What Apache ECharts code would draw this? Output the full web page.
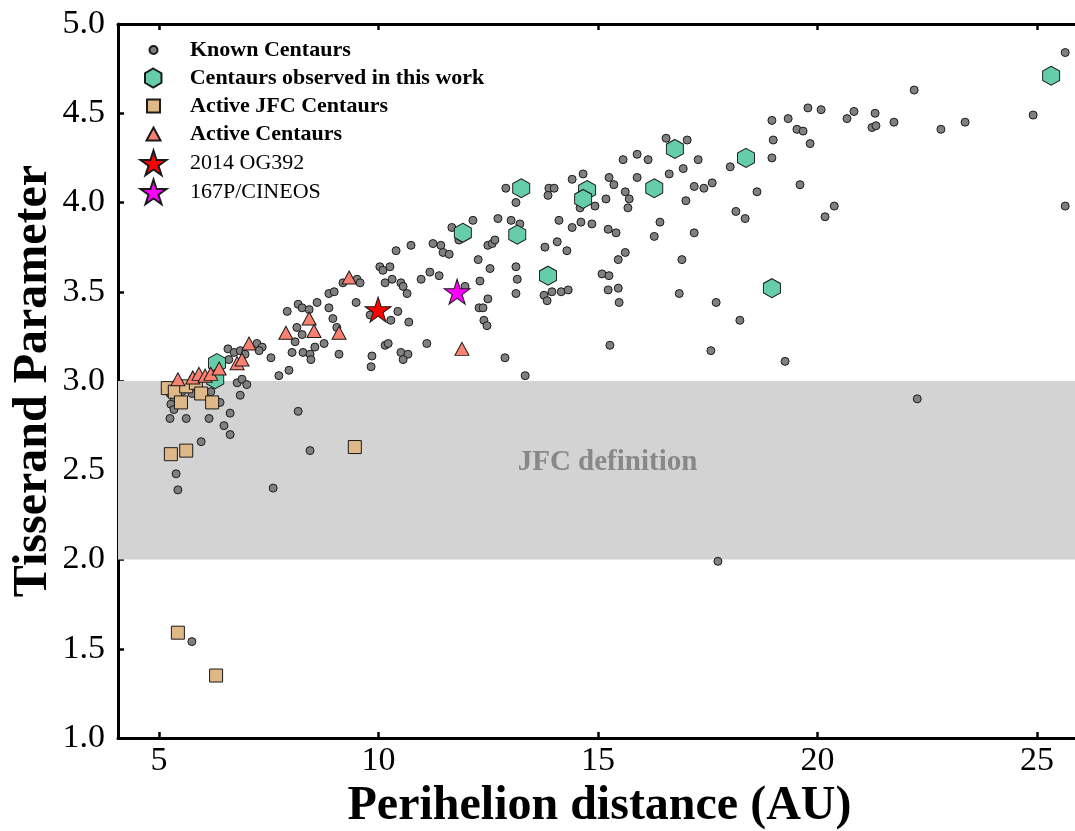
<!DOCTYPE html>
<html><head><meta charset="utf-8">
<script src="https://cdn.jsdelivr.net/npm/echarts@6/dist/echarts.min.js"></script>
<style>html,body{margin:0;padding:0;background:#fff}#c{width:1075px;height:831px}</style>
</head><body><div id="c"></div><script>
// ---- data (perihelion distance [AU], Tisserand parameter) ----
const xTicks = [5, 10, 15, 20, 25];
const yTickInterval = 0.5;
const knownCentaurs = [
[5.25,2.93],[5.34,2.90],[5.52,2.94],[5.75,2.93],[6.00,2.92],[6.18,2.94],[5.27,2.87],[5.34,2.84],[5.25,2.79],[5.62,2.79],[6.14,2.79],[6.39,2.88],[6.62,2.82],[6.48,2.75],[6.62,2.70],[5.96,2.66],[5.39,2.48],[5.43,2.39],[5.75,1.54],[6.78,2.99],[6.89,3.01],[7.00,2.98],[6.85,2.92],[6.57,3.18],[6.71,3.16],[6.85,3.17],[6.96,3.15],[6.59,3.12],[7.23,3.21],[7.35,3.19],[7.28,3.17],[7.55,3.13],[7.73,3.03],[7.96,3.06],[7.60,2.40],
[7.92,3.39],[8.17,3.43],[8.26,3.41],[8.42,3.40],[8.60,3.44],[8.87,3.49],[8.99,3.50],[8.87,3.41],[9.19,3.55],[9.51,3.57],[9.58,3.55],[9.49,3.44],[9.81,3.37],[8.96,3.35],[8.14,3.30],[9.05,3.30],[8.26,3.26],[8.10,3.22],[8.76,3.21],[8.55,3.19],[8.28,3.16],[8.03,3.16],[8.44,3.15],[8.46,3.12],[9.10,3.15],[9.85,3.14],[9.83,3.08],[8.17,2.83],[8.44,2.61],[10.03,3.64],[10.10,3.62],
[10.15,3.55],[10.31,3.57],[10.26,3.64],[10.51,3.55],[10.56,3.53],[10.65,3.49],[10.44,3.39],[10.28,3.34],[10.69,3.33],[10.15,3.20],[10.22,3.21],[10.51,3.16],[10.67,3.15],[10.56,3.12],[11.10,3.21],[10.97,3.57],[11.17,3.61],[11.38,3.59],[10.40,3.73],[10.74,3.76],[11.24,3.77],[11.42,3.76],[11.47,3.72],[11.61,3.71],[11.67,3.86],[12.15,3.90],[11.83,3.79],[12.27,3.68],[11.97,3.53],[12.29,3.41],[12.38,3.41],[12.31,3.56],[12.49,3.46],[12.40,3.34],[12.47,3.31],[12.88,3.13],[13.34,3.03],[12.49,3.76],[12.59,3.77],[12.65,3.79],[12.54,3.63],[13.13,3.64],[13.16,3.57],[13.13,3.49],[12.72,3.91],[12.90,4.08],[13.13,4.00],[13.02,3.90],[13.22,3.88],
[13.79,3.75],[14.07,3.78],[14.29,3.73],[14.11,3.90],[14.41,3.86],[14.61,3.89],[14.86,3.88],[13.88,4.08],[14.00,4.08],[13.86,4.04],[14.41,4.13],[14.66,4.16],[15.25,4.14],[15.36,4.10],[15.18,4.02],[14.93,3.98],[14.59,3.97],[15.23,3.85],[15.41,3.83],[15.46,3.68],[15.09,3.60],[15.25,3.59],[15.23,3.51],[15.46,3.52],[15.48,3.44],[13.95,3.50],[14.16,3.50],[14.32,3.51],[13.77,3.48],[13.84,3.45],[15.27,3.20],[15.62,4.06],[15.71,4.02],[15.68,3.97],[15.57,4.24],[15.89,4.27],[16.14,4.24],[15.89,4.14],[15.62,3.72],[16.41,3.89],[16.28,3.81],[17.19,3.83],[16.91,3.68],[16.85,3.49],[17.69,3.44],[18.23,3.34],[17.57,3.17],[19.26,3.11],
[16.55,4.36],[17.03,4.35],[17.28,4.24],[16.94,4.19],[16.62,4.16],[18.01,4.20],[17.60,4.11],[17.41,4.08],[17.19,4.09],[17.00,4.01],[18.62,4.06],[18.14,3.95],[18.35,3.91],[18.96,4.46],[19.33,4.47],[19.53,4.41],[19.67,4.40],[19.78,4.53],[20.08,4.52],[19.83,4.33],[18.99,4.35],[18.96,4.25],[19.60,4.10],[20.38,3.98],[20.17,3.92],[20.67,4.47],[20.83,4.51],[21.31,4.50],[21.24,4.42],[21.33,4.43],[21.74,4.45],[22.20,4.63],[22.81,4.41],[23.36,4.45],[24.91,4.49],[25.64,4.84],[25.64,3.98],[22.27,2.90],[17.73,1.99]
];
const observedCentaurs = [
[6.32,3.10],[6.28,3.01],[11.92,3.83],[13.25,4.08],[13.16,3.82],[13.86,3.59],[14.75,4.07],[14.66,4.02],[16.28,4.08],[16.75,4.30],[18.37,4.25],[18.96,3.52],[25.32,4.71]
];
const activeJFC = [
[5.20,2.96],[5.36,2.94],[5.62,2.97],[5.84,2.99],[5.96,2.93],[5.50,2.88],[6.21,2.88],[5.27,2.59],[5.62,2.61],[9.46,2.63],[5.43,1.59],[6.30,1.35]
];
const activeCentaurs = [
[5.43,3.01],[5.77,3.02],[5.91,3.04],[6.05,3.03],[6.18,3.04],[6.37,3.07],[6.78,3.10],[6.89,3.12],[7.05,3.21],[7.89,3.27],[8.42,3.35],[8.53,3.28],[9.10,3.27],[9.33,3.58],[11.90,3.18]
];
const og392 = [[9.99,3.40]];
const cineos = [[11.79,3.50]];
const jfcBand = [2.0, 3.0];

const FONT = '"Liberation Serif", "DejaVu Serif", serif';
const HEX = 'path://M0,-1 L0.866,-0.5 L0.866,0.5 L0,1 L-0.866,0.5 L-0.866,-0.5 Z';
const STAR = 'path://M0,-1 L0.225,-0.309 L0.951,-0.309 L0.363,0.118 L0.588,0.809 L0,0.382 L-0.588,0.809 L-0.363,0.118 L-0.951,-0.309 L-0.225,-0.309 Z';

const seriesDefs = [
  {name:'Known Centaurs', data:knownCentaurs, symbol:'circle', size:[8,8], color:'#808080', bold:true},
  {name:'Centaurs observed in this work', data:observedCentaurs, symbol:HEX, size:[17,19], color:'#66cdaa', bold:true},
  {name:'Active JFC Centaurs', data:activeJFC, symbol:'rect', size:[13,13], color:'#deb887', bold:true},
  {name:'Active Centaurs', data:activeCentaurs, symbol:'triangle', size:[14,13], color:'#fa8072', bold:true},
  {name:'2014 OG392', data:og392, symbol:STAR, size:[26,25], color:'#ff0000', bold:false},
  {name:'167P/CINEOS', data:cineos, symbol:STAR, size:[26,25], color:'#ff00ff', bold:false}
];
const legendRows = [50, 78, 106, 134, 162, 191];
const legendIconX = 152.5, legendTextX = 189, legendLine = 24;

const series = seriesDefs.map((d, i) => {
  const s = {
    name: d.name, type: 'scatter', data: d.data,
    symbol: d.symbol, symbolSize: d.size,
    itemStyle: {color: d.color, borderColor: '#1a1a1a', borderWidth: 1, opacity: 1},
    emphasis: {disabled: true}, z: 2 + i
  };
  if (i === 0) {
    s.markArea = {
      silent: true,
      itemStyle: {color: '#d3d3d3', opacity: 1},
      label: {show: true, position: 'inside', offset: [8, -8], color: '#888888',
              fontFamily: FONT, fontWeight: 'bold', fontSize: 29},
      data: [[{name: 'JFC definition', yAxis: jfcBand[0]}, {yAxis: jfcBand[1]}]]
    };
  }
  return s;
});

const legends = seriesDefs.map((d, i) => {
  const w = d.size[0], h = d.size[1];
  const boxH = Math.max(h, legendLine);
  return {
    data: [d.name], orient: 'vertical', padding: 0,
    left: legendIconX - w / 2, top: legendRows[i] - boxH / 2,
    itemWidth: w, itemHeight: h, selectedMode: false,
    textStyle: {fontFamily: FONT, fontSize: 22, lineHeight: legendLine,
                fontWeight: d.bold ? 'bold' : 'normal', color: '#000',
                padding: [0, 0, 0, legendTextX - (legendIconX + w / 2 + 5)]}
  };
});

const axisLine = {show: true, onZero: false, lineStyle: {color: '#000', width: 3}};
const tick = {show: true, inside: true, length: 6, lineStyle: {color: '#000', width: 2.5}};
const xMin = 4.066, xMax = 26;

const option = {
  animation: false,
  backgroundColor: '#fff',
  grid: {left: 118, top: 24, width: 963, height: 714, outerBoundsMode: 'none', containLabel: false},
  legend: legends,
  xAxis: [
    {type: 'value', min: xMin, max: xMax, position: 'bottom',
     axisLine: axisLine, splitLine: {show: false},
     axisTick: Object.assign({customValues: xTicks}, tick),
     axisLabel: {customValues: xTicks, fontFamily: FONT, fontSize: 34, color: '#000', margin: 6},
     name: 'Perihelion distance (AU)', nameLocation: 'middle', nameGap: 45, nameMoveOverlap: false,
     nameTextStyle: {fontFamily: FONT, fontSize: 48, fontWeight: 'bold', color: '#000'}},
    {type: 'value', min: xMin, max: xMax, position: 'top',
     axisLine: axisLine, splitLine: {show: false},
     axisTick: Object.assign({customValues: xTicks}, tick),
     axisLabel: {show: false}}
  ],
  yAxis: [
    {type: 'value', min: 1, max: 5, interval: yTickInterval, position: 'left',
     axisLine: axisLine, splitLine: {show: false}, axisTick: tick,
     axisLabel: {formatter: v => v.toFixed(1), fontFamily: FONT, fontSize: 34, color: '#000', margin: 13},
     name: 'Tisserand Parameter', nameLocation: 'middle', nameGap: 60, nameMoveOverlap: false,
     nameTextStyle: {fontFamily: FONT, fontSize: 48, fontWeight: 'bold', color: '#000'}},
    {type: 'value', min: 1, max: 5, interval: yTickInterval, position: 'right',
     axisLine: axisLine, splitLine: {show: false}, axisTick: tick,
     axisLabel: {show: false}}
  ],
  series: series
};
const chart = echarts.init(document.getElementById('c'), null, {renderer: 'canvas'});
chart.setOption(option);
</script></body></html>
